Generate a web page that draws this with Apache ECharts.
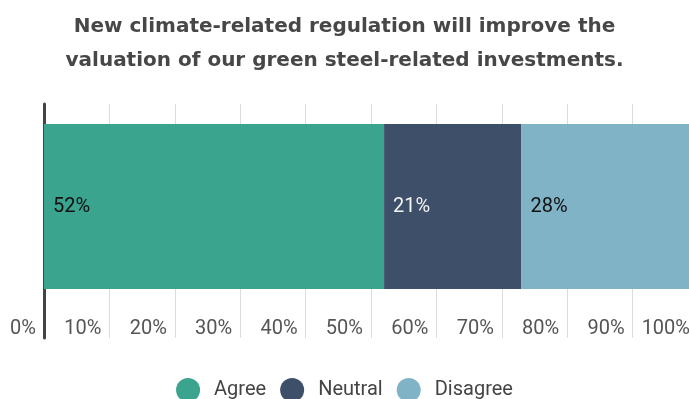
<!DOCTYPE html>
<html>
<head>
<meta charset="utf-8">
<script src="https://cdn.jsdelivr.net/npm/echarts@6/dist/echarts.min.js"></script>
<style>
  html, body { margin: 0; padding: 0; background: #fff; }
  #chart { width: 689px; height: 399px; }
</style>
</head>
<body>
<div id="chart"></div>
<script>
// Survey response shares (percent)
const categories = ['Response'];
const seriesNames = ['Agree', 'Neutral', 'Disagree'];
const agreeValues = [52];
const neutralValues = [21];
const disagreeValues = [28];
const tickValues = [0, 10, 20, 30, 40, 50, 60, 70, 80, 90, 100];

const colors = { Agree: '#3ba48e', Neutral: '#3e4f69', Disagree: '#81b3c7' };
const labelColors = { Agree: '#111', Neutral: '#f2f2f2', Disagree: '#111' };
const valuesByName = { Agree: agreeValues, Neutral: neutralValues, Disagree: disagreeValues };

const plotLeft = 44;
const plotWidth = 654;

const chart = echarts.init(document.getElementById('chart'));

chart.setOption({
  animation: false,
  title: {
    text: 'New climate-related regulation will improve the\nvaluation of our green steel-related investments.',
    left: 'center',
    top: 5,
    textStyle: {
      fontFamily: 'DejaVu Sans',
      fontWeight: 'bold',
      fontSize: 20,
      lineHeight: 34,
      color: '#474747'
    }
  },
  legend: {
    data: seriesNames,
    left: 'center',
    top: 378,
    padding: 0,
    icon: 'circle',
    itemWidth: 24,
    itemHeight: 24,
    itemGap: 14,
    textStyle: {
      fontFamily: 'Roboto',
      fontSize: 20,
      color: '#444',
      padding: [0, 0, 0, 9]
    }
  },
  grid: [
    // grid 0: axis frame with gridlines and tick labels
    { left: plotLeft, width: plotWidth, top: 104, height: 234, outerBoundsMode: 'none' },
    // grid 1: the stacked bar itself
    { left: plotLeft, width: plotWidth, top: 124, height: 165, outerBoundsMode: 'none' }
  ],
  xAxis: [
    {
      gridIndex: 0,
      type: 'value',
      min: tickValues[0],
      max: tickValues[tickValues.length - 1],
      interval: 10,
      axisLine: { show: false },
      axisTick: { show: false },
      splitLine: { show: true, lineStyle: { color: '#dcdcdc', width: 1 } },
      axisLabel: {
        inside: true,
        margin: -1,
        align: 'right',
        padding: [0, 8, 0, 0],
        fontFamily: 'Roboto',
        fontSize: 20,
        color: '#555',
        formatter: v => v + '%'
      }
    },
    {
      gridIndex: 1,
      type: 'value',
      min: tickValues[0],
      max: tickValues[tickValues.length - 1],
      show: false,
      splitLine: { show: false }
    }
  ],
  yAxis: [
    {
      gridIndex: 0,
      type: 'category',
      data: categories,
      axisLine: { show: true, lineStyle: { color: '#444', width: 3 } },
      axisTick: { show: false },
      axisLabel: { show: false }
    },
    {
      gridIndex: 1,
      type: 'category',
      data: categories,
      show: false
    }
  ],
  series: seriesNames.map(name => ({
    name: name,
    type: 'bar',
    stack: 'total',
    xAxisIndex: 1,
    yAxisIndex: 1,
    barWidth: '100%',
    z: 3,
    itemStyle: { color: colors[name] },
    label: {
      show: true,
      position: 'insideLeft',
      distance: 9,
      fontFamily: 'Roboto',
      fontSize: 20,
      color: labelColors[name],
      formatter: p => p.value + '%'
    },
    data: valuesByName[name]
  }))
});
</script>
</body>
</html>
